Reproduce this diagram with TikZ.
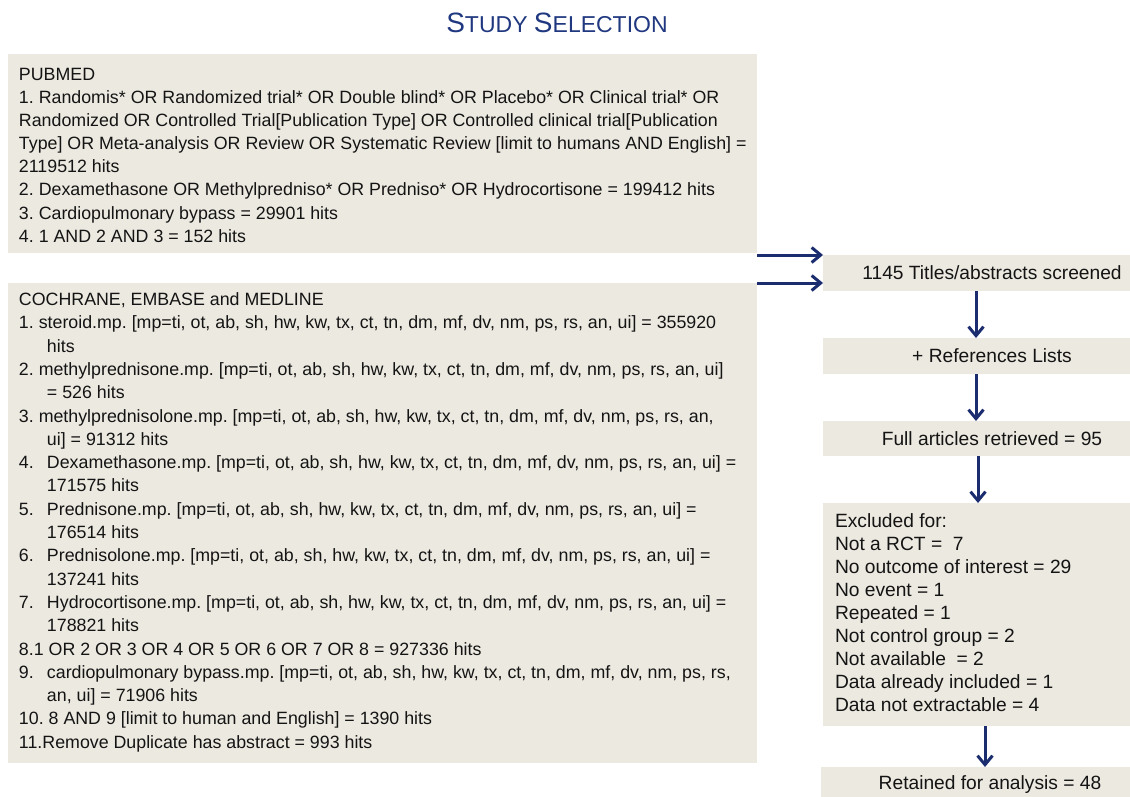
\documentclass[tikz,border=0pt]{standalone}
\usepackage{fontspec}
\setmainfont{Liberation Sans}
\usetikzlibrary{arrows.meta}
\definecolor{boxfill}{RGB}{236,233,224}
\definecolor{navy}{RGB}{27,45,110}
\definecolor{titlenavy}{RGB}{32,56,128}
\definecolor{ink}{RGB}{20,20,20}
\newcommand{\lfont}{\fontsize{17.8}{23.2}\selectfont\frenchspacing}
\newcommand{\cfont}{\fontsize{17.8}{23.3}\selectfont\frenchspacing}
\newcommand{\rfont}{\fontsize{19.2}{23.1}\selectfont\frenchspacing}
\newcommand{\nb}[1]{\makebox[28pt][l]{#1}}
\newcommand{\ind}{\hspace*{28pt}}
\begin{document}
\begin{tikzpicture}[x=1pt,y=-1pt,
  panel/.style={fill=boxfill, draw=none, inner sep=0pt, outer sep=0pt, text=ink},
  lefttext/.style={anchor=north west, inner sep=0pt, outer sep=0pt, align=left, text=ink},
  rbox/.style={panel, minimum width=338pt, font=\rfont},
  arr/.style={draw=navy, line width=3pt, -{Straight Barb[length=9pt,width=15pt]}},
]
\useasboundingbox (0,0) rectangle (1130,797);
\clip (0,0) rectangle (1130,797);

% title
\node[anchor=base, text=titlenavy, inner sep=0pt] (title) at (557,33)
  {\fontsize{28}{30}\selectfont S\fontsize{23}{25}\selectfont TUDY \fontsize{28}{30}\selectfont S\fontsize{23}{25}\selectfont ELECTION};

% PUBMED panel
\node[panel, anchor=north west, minimum width=749pt, minimum height=199pt] (pub) at (8,54) {};
\node[lefttext, font=\lfont] (pubtxt) at (19,66) {\rule{0pt}{14pt}PUBMED\\
1. Randomis* OR Randomized trial* OR Double blind* OR Placebo* OR Clinical trial* OR\\
Randomized OR Controlled Trial[Publication Type] OR Controlled clinical trial[Publication\\
Type] OR Meta-analysis OR Review OR Systematic Review [limit to humans AND English] =\\
2119512 hits\\
2. Dexamethasone OR Methylpredniso* OR Predniso* OR Hydrocortisone = 199412 hits\\
3. Cardiopulmonary bypass = 29901 hits\\
4. 1 AND 2 AND 3 = 152 hits};

% COCHRANE panel
\node[panel, anchor=north west, minimum width=749pt, minimum height=480pt] (coch) at (8,283) {};
\node[lefttext, font=\cfont] (cochtxt) at (19,291.5) {\rule{0pt}{14pt}COCHRANE, EMBASE and MEDLINE\\
1. steroid.mp. [mp=ti, ot, ab, sh, hw, kw, tx, ct, tn, dm, mf, dv, nm, ps, rs, an, ui] = 355920\\
\ind hits\\
2. methylprednisone.mp. [mp=ti, ot, ab, sh, hw, kw, tx, ct, tn, dm, mf, dv, nm, ps, rs, an, ui]\\
\ind = 526 hits\\
3. methylprednisolone.mp. [mp=ti, ot, ab, sh, hw, kw, tx, ct, tn, dm, mf, dv, nm, ps, rs, an,\\
\ind ui] = 91312 hits\\
\nb{4.}Dexamethasone.mp. [mp=ti, ot, ab, sh, hw, kw, tx, ct, tn, dm, mf, dv, nm, ps, rs, an, ui] =\\
\ind 171575 hits\\
\nb{5.}Prednisone.mp. [mp=ti, ot, ab, sh, hw, kw, tx, ct, tn, dm, mf, dv, nm, ps, rs, an, ui] =\\
\ind 176514 hits\\
\nb{6.}Prednisolone.mp. [mp=ti, ot, ab, sh, hw, kw, tx, ct, tn, dm, mf, dv, nm, ps, rs, an, ui] =\\
\ind 137241 hits\\
\nb{7.}Hydrocortisone.mp. [mp=ti, ot, ab, sh, hw, kw, tx, ct, tn, dm, mf, dv, nm, ps, rs, an, ui] =\\
\ind 178821 hits\\
8.1 OR 2 OR 3 OR 4 OR 5 OR 6 OR 7 OR 8 = 927336 hits\\
\nb{9.}cardiopulmonary bypass.mp. [mp=ti, ot, ab, sh, hw, kw, tx, ct, tn, dm, mf, dv, nm, ps, rs,\\
\ind an, ui] = 71906 hits\\
10. 8 AND 9 [limit to human and English] = 1390 hits\\
11.Remove Duplicate has abstract = 993 hits};

% right column
\node[rbox, minimum height=36pt] (screen) at (992,273) {1145 Titles/abstracts screened};
\node[rbox, minimum height=36pt] (refs) at (992,356) {+ References Lists};
\node[rbox, minimum height=35pt] (full) at (992,438.5) {Full articles retrieved = 95};
\node[panel, anchor=north west, minimum width=338pt, minimum height=223pt] (excl) at (823,503) {};
\node[lefttext, font=\rfont] (excltxt) at (835,513) {\rule{0pt}{14pt}Excluded for:\\
Not a RCT =\ \ 7\\
No outcome of interest = 29\\
No event = 1\\
Repeated = 1\\
Not control group = 2\\
Not available\ \ = 2\\
Data already included = 1\\
Data not extractable = 4};
\node[rbox, minimum height=36pt] (ret) at (990,785) {Retained for analysis = 48};

% connectors
\draw[arr] ([yshift=-2pt]pub.south east) -- ([yshift=-2pt]pub.south east -| screen.west);
\draw[arr] (coch.north east) -- (coch.north east -| screen.west);
\draw[arr] ([xshift=-16pt]screen.south) -- ([xshift=-16pt]refs.north);
\draw[arr] ([xshift=-16pt]refs.south) -- ([xshift=-16pt]full.north);
\draw[arr] ([xshift=-14pt]full.south) -- ([xshift=-14pt]excl.north);
\draw[arr] ([xshift=-7pt]excl.south) -- ([xshift=-5pt]ret.north);
\end{tikzpicture}
\end{document}
